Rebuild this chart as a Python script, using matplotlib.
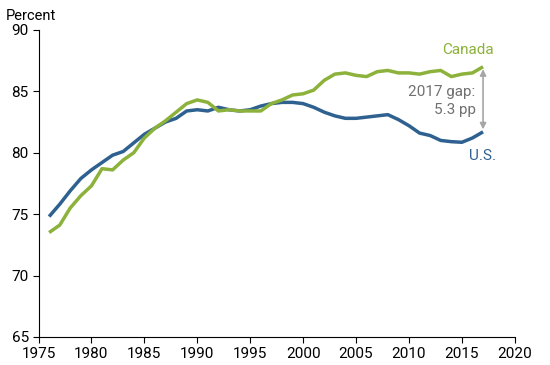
import numpy as np
import matplotlib.pyplot as plt

plt.rcParams['font.family'] = ['Roboto', 'DejaVu Sans']

years = np.arange(1976, 2018)
us = [74.8, 75.8, 76.9, 77.9, 78.6, 79.2, 79.8, 80.1, 80.8, 81.5,
      82.0, 82.5, 82.8, 83.4, 83.5, 83.4, 83.7, 83.5, 83.4, 83.5,
      83.8, 84.0, 84.1, 84.1, 84.0, 83.7, 83.3, 83.0, 82.8, 82.8,
      82.9, 83.0, 83.1, 82.7, 82.2, 81.6, 81.4, 81.0, 80.9, 80.85,
      81.2, 81.7]
canada = [73.5, 74.1, 75.5, 76.5, 77.3, 78.7, 78.6, 79.4, 80.0, 81.2,
          82.0, 82.6, 83.3, 84.0, 84.3, 84.1, 83.4, 83.5, 83.4, 83.4,
          83.4, 84.0, 84.3, 84.7, 84.8, 85.1, 85.9, 86.4, 86.5, 86.3,
          86.2, 86.6, 86.7, 86.5, 86.5, 86.4, 86.6, 86.7, 86.2, 86.4,
          86.5, 87.0]
x_ticks = np.arange(1975, 2021, 5)
y_ticks = np.arange(65, 91, 5)

blue = '#2f6190'
green = '#8cb23b'

fig = plt.figure(figsize=(5.5, 3.65), dpi=100)
ax = fig.add_axes([0.07, 0.077, 0.866, 0.841])

ax.plot(years, us, color=blue, lw=2.5, solid_capstyle='butt')
ax.plot(years, canada, color=green, lw=2.5, solid_capstyle='butt')

ax.set_xlim(1975, 2020)
ax.set_ylim(65, 90)
ax.set_xticks(x_ticks)
ax.set_yticks(y_ticks)
ax.tick_params(labelsize=11, length=4, color='black', pad=3)
for s in ['top', 'right']:
    ax.spines[s].set_visible(False)

fig.text(0.01, 0.955, 'Percent', fontsize=10.5, va='center', ha='left')

ax.text(2015.6, 88.4, 'Canada', color=green, fontsize=11, ha='center', va='center')
ax.text(2017.0, 79.7, 'U.S.', color=blue, fontsize=11, ha='center', va='center')
ax.text(2016.3, 84.95, '2017 gap:', color='#707070', fontsize=11, ha='right', va='center')
ax.text(2016.3, 83.5, '5.3 pp', color='#707070', fontsize=11, ha='right', va='center')

ax.annotate('', xy=(years[-1], canada[-1] - 0.2), xytext=(years[-1], us[-1] + 0.2),
            arrowprops=dict(arrowstyle='<|-|>', color='#a6a6a6', lw=1.2,
                            mutation_scale=9, shrinkA=0, shrinkB=0))

fig.savefig('out.png', dpi=100)
